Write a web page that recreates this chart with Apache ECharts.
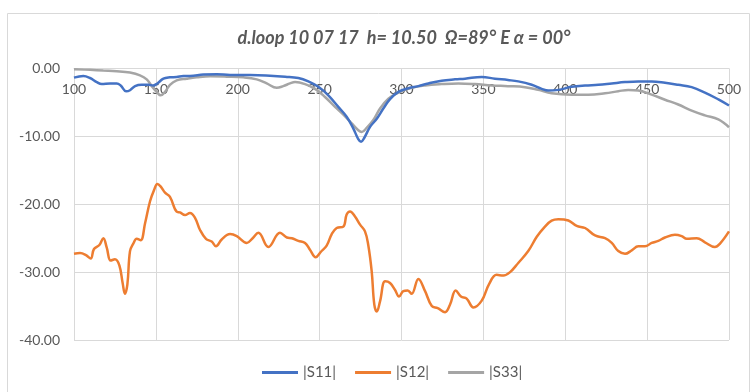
<!DOCTYPE html>
<html><head><meta charset="utf-8">
<script src="https://cdn.jsdelivr.net/npm/echarts@6/dist/echarts.min.js"></script>
<style>html,body{margin:0;padding:0;background:#fff}#c{width:751px;height:392px}</style>
</head><body><div id="c"></div>
<script>
const titleText = 'd.loop 10 07 17  h= 10.50  Ω=89° E α = 00°';
const seriesNames = ['|S11|', '|S12|', '|S33|'];
const xTicks = [100, 150, 200, 250, 300, 350, 400, 450, 500];
const yTicks = [0, -10, -20, -30, -40];

const s11Freq = [100,105.7,109.8,113.9,116.9,122,126.1,128.5,131.8,134.2,137.3,141.3,145.4,148.4,150.9,154.6,158.6,162.7,166.8,170.8,179,187.1,195.3,207.5,219.7,229,237,243.1,249.2,255.3,261.4,266.5,270.6,273.6,275.3,277.3,280.8,284.9,288.9,293,298.1,304.2,310.3,316.4,324.5,332.7,338.8,349,357.1,365,371.3,379.5,385.6,389.7,395.8,403.9,412.1,420.2,428.4,436.5,444.6,452.8,460.9,469,477.2,485.3,493.5,500];
const s11Val  = [-1.35,-1.1,-1.4,-2.0,-2.3,-2.2,-2.2,-2.5,-3.35,-3.2,-2.6,-2.4,-2.4,-2.5,-2.2,-1.5,-1.3,-1.25,-1.1,-1.1,-0.9,-0.85,-0.95,-0.95,-1.05,-1.2,-1.4,-1.9,-2.7,-3.95,-5.65,-7.1,-8.85,-10.4,-10.8,-10.2,-8.6,-7.4,-5.9,-4.5,-3.45,-2.9,-2.6,-2.2,-1.8,-1.6,-1.5,-1.25,-1.5,-1.7,-1.9,-2.4,-3.0,-3.25,-3.15,-2.7,-2.5,-2.4,-2.2,-2.0,-1.9,-1.9,-2.1,-2.4,-2.75,-3.55,-4.55,-5.45];

const s12Freq = [100,103.7,107.3,110.2,112.2,115.5,117.9,120,122.4,125,127.7,129.7,131.1,132.6,134.2,136.2,138.3,140.7,143.4,146.4,148.9,150.9,153,155.6,158.6,162.7,164.7,167.8,170.8,173.9,176.9,180.6,184.1,186.7,190.2,195.3,199.4,205.5,209.1,212.6,218.7,225.8,230,233,237,241.1,244.1,247.6,250.8,254.3,257.4,260.4,264.5,266.5,268.6,271.6,274.7,277.7,279.7,281.8,283.4,284.9,286.9,290,293,296,298.5,301.1,303.8,306.2,310.3,314.4,318.5,322.1,326.6,329.6,333.1,336.3,339.8,343.9,349,353.4,358.1,362.2,366.3,371.3,377.4,382.6,387.6,391.7,395.8,401.9,407,412.1,418.2,424.3,428.4,432.4,436.5,440.6,444.6,448.7,452.8,456.8,460.9,467,471.1,474.2,480.3,485.3,491.4,494.5,500];
const s12Val  = [-27.3,-27.2,-27.5,-28.0,-26.6,-26.0,-25.0,-26.4,-28.3,-28.1,-29.0,-31.6,-33.2,-31.8,-26.9,-25.8,-25.1,-25.3,-22.8,-19.6,-17.9,-17.0,-17.4,-18.3,-18.9,-21.1,-21.2,-21.6,-21.3,-22.0,-23.75,-25.1,-25.5,-26.2,-25.2,-24.4,-24.7,-25.7,-25.0,-24.2,-26.3,-24.2,-24.9,-25.0,-25.4,-25.7,-26.7,-27.8,-27.0,-26.1,-24.4,-23.5,-23.3,-21.5,-21.05,-21.8,-23.0,-24.0,-26.0,-29.9,-34.8,-35.8,-34.3,-31.35,-31.6,-32.6,-33.6,-32.8,-32.7,-33.2,-31.0,-32.8,-35.0,-35.3,-35.9,-34.8,-32.7,-33.6,-33.9,-35.2,-34.2,-31.8,-30.4,-30.5,-30.0,-28.65,-26.9,-24.8,-23.3,-22.4,-22.2,-22.4,-23.2,-23.5,-24.6,-25.0,-25.7,-26.9,-27.3,-26.8,-26.2,-26.2,-25.7,-25.4,-24.9,-24.5,-24.7,-25.1,-25.0,-25.6,-26.3,-25.8,-24.0];

const s33Freq = [100,109.8,117.9,126.1,134.2,140.3,144.4,147.5,150.9,152.9,155.6,158.6,162.7,168.8,174.9,183.1,193.3,203.4,211.6,217.7,223.8,227.8,231.9,235,241.1,247.2,253.3,259.4,264.5,269.6,273.6,275.7,278.7,282.8,286.9,292,298.1,306.2,314.4,324.5,334.7,344.9,355.1,365,375.4,383.5,391.7,403.9,414.1,424.3,432.4,438.5,444.6,452.8,460.9,469,477.2,485.3,493.5,500];
const s33Val  = [-0.1,-0.2,-0.3,-0.4,-0.6,-1.0,-1.6,-2.6,-3.55,-3.95,-3.45,-2.4,-1.75,-1.5,-1.3,-1.15,-1.2,-1.3,-1.6,-2.2,-2.85,-2.6,-2.2,-2.0,-2.3,-3.0,-4.2,-5.65,-6.8,-8.1,-9.1,-9.35,-8.75,-7.6,-5.9,-4.45,-3.55,-2.85,-2.5,-2.3,-2.2,-2.3,-2.5,-2.6,-2.75,-3.15,-3.65,-3.85,-3.85,-3.65,-3.35,-3.15,-3.25,-3.85,-4.6,-5.3,-6.2,-6.9,-7.5,-8.65];

const zip = (f, v) => f.map((x, i) => [x, v[i]]);
const colors = ['#4472C4', '#ED7D31', '#A5A5A5'];
const font = 'Lato, "Noto Sans", sans-serif';

const chart = echarts.init(document.getElementById('c'));
chart.setOption({
  animation: false,
  color: colors,
  graphic: [{
    type: 'rect', shape: {x: 7.5, y: 13.5, width: 742, height: 380},
    style: {fill: 'none', stroke: '#d9d9d9', lineWidth: 1}, silent: true
  }],
  title: {
    text: titleText, left: 399, top: 24, textAlign: 'center',
    textStyle: {fontFamily: font, fontSize: 18, fontWeight: 'bold', fontStyle: 'italic', color: '#595959'}
  },
  legend: {
    data: seriesNames, bottom: 7, left: 257, itemWidth: 36, itemHeight: 3, itemGap: 19,
    icon: 'rect',
    textStyle: {fontFamily: font, fontSize: 15, color: '#595959'}
  },
  grid: {left: 74, right: 22, top: 68.5, bottom: 52},
  xAxis: {
    type: 'value', position: 'top', min: xTicks[0], max: xTicks[xTicks.length - 1], interval: 50,
    axisLine: {show: true, onZero: false, lineStyle: {color: '#d9d9d9'}},
    axisTick: {show: false},
    axisLabel: {inside: true, margin: 14, fontFamily: font, fontSize: 14, color: '#595959'},
    splitLine: {show: true, lineStyle: {color: '#d9d9d9', width: 1}}
  },
  yAxis: {
    type: 'value', min: yTicks[yTicks.length - 1], max: yTicks[0], interval: 10,
    axisLine: {show: true, lineStyle: {color: '#d9d9d9'}},
    axisTick: {show: false},
    axisLabel: {margin: 14, fontFamily: font, fontSize: 14, color: '#595959', formatter: v => v.toFixed(2)},
    splitLine: {show: true, lineStyle: {color: '#d9d9d9', width: 1}}
  },
  series: [
    {name: seriesNames[0], type: 'line', data: zip(s11Freq, s11Val), smooth: 0.4, showSymbol: false, lineStyle: {width: 2.5}, z: 3},
    {name: seriesNames[1], type: 'line', data: zip(s12Freq, s12Val), smooth: 0.4, showSymbol: false, lineStyle: {width: 2.5}, z: 2},
    {name: seriesNames[2], type: 'line', data: zip(s33Freq, s33Val), smooth: 0.4, showSymbol: false, lineStyle: {width: 2.5}, z: 1}
  ]
});
</script></body></html>
